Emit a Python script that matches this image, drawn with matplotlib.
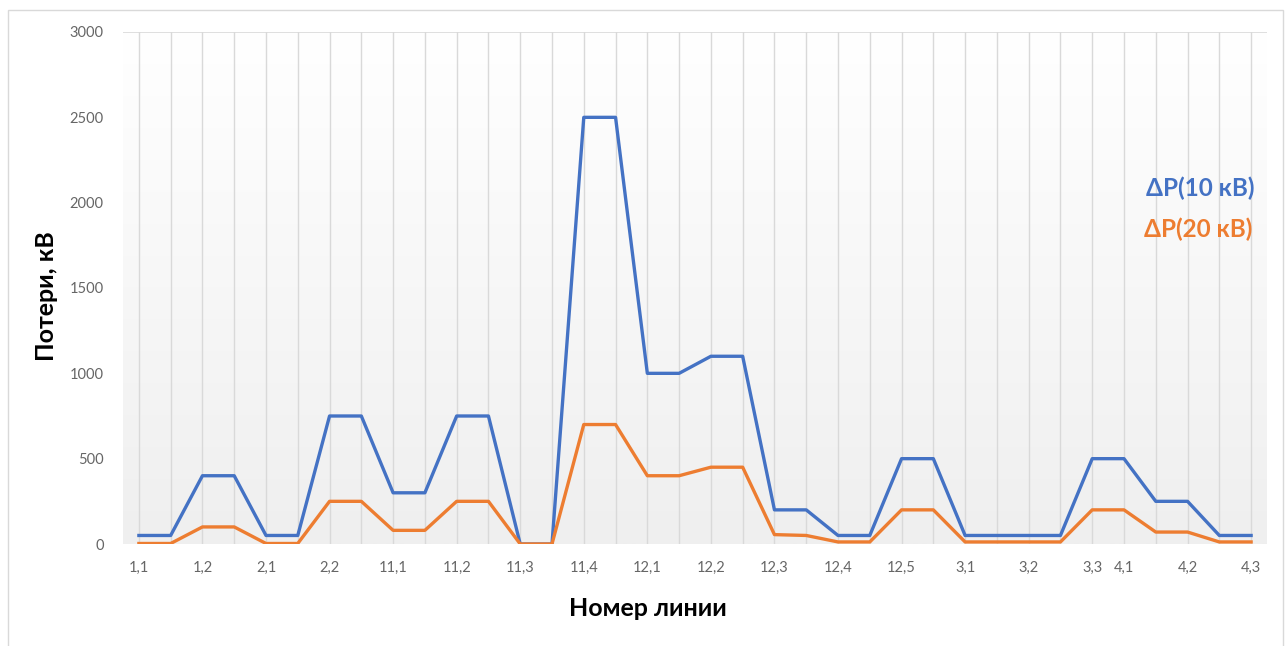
import numpy as np
import matplotlib.pyplot as plt
import matplotlib.patches as patches

# Line numbers (each line takes two category slots; blank = unlabeled slot)
labels = ["1,1", "", "1,2", "", "2,1", "", "2,2", "", "11,1", "", "11,2", "",
          "11,3", "", "11,4", "", "12,1", "", "12,2", "", "12,3", "", "12,4", "",
          "12,5", "", "3,1", "", "3,2", "", "3,3", "4,1", "", "4,2", "", "4,3"]

loss_10kv = [50, 50, 400, 400, 50, 50, 750, 750, 300, 300, 750, 750,
             0, 0, 2500, 2500, 1000, 1000, 1100, 1100, 200, 200, 50, 50,
             500, 500, 50, 50, 50, 50, 500, 500, 250, 250, 50, 50]

loss_20kv = [3, 3, 100, 100, 3, 3, 250, 250, 80, 80, 250, 250,
             0, 0, 700, 700, 400, 400, 450, 450, 55, 50, 12, 12,
             200, 200, 12, 12, 12, 12, 200, 200, 70, 70, 12, 12]

C_BLUE = "#4472C4"
C_ORANGE = "#ED7D31"
C_GRID = "#D9D9D9"
C_TICK = "#666666"

plt.rcParams['font.family'] = ['Lato', 'DejaVu Sans']

fig = plt.figure(figsize=(12.88, 6.46), dpi=100, facecolor="white")
ax = fig.add_axes([123 / 1288, 1 - 544 / 646, (1267 - 123) / 1288, (544 - 32) / 646])

x = np.arange(len(labels))
n = len(labels)

# soft vertical gradient behind the plot area
grad = np.linspace(1.0, 0.0, 256).reshape(-1, 1)
ax.imshow(grad, extent=(-0.5, n - 0.5, 0, 3000), aspect='auto', origin='upper',
          cmap=plt.matplotlib.colors.LinearSegmentedColormap.from_list(
              "bg", ["#EFEFEF", "#FFFFFF"]), zorder=0)

ax.set_xlim(-0.5, n - 0.5)
ax.set_ylim(0, 3000)

ax.set_xticks(x)
ax.set_xticklabels(labels, fontsize=10.5, color=C_TICK)
ax.set_yticks(range(0, 3001, 500))
ax.set_yticklabels([str(v) for v in range(0, 3001, 500)], fontsize=10.5, color=C_TICK)
ax.tick_params(length=0, pad=12)
ax.tick_params(axis='y', pad=14)

ax.grid(axis='x', color=C_GRID, lw=1, zorder=1)
ax.set_axisbelow(True)
ax.axhline(3000, color=C_GRID, lw=1.2, zorder=1)
for s in ax.spines.values():
    s.set_visible(False)

ax.plot(x, loss_10kv, color=C_BLUE, lw=2.4, zorder=3)
ax.plot(x, loss_20kv, color=C_ORANGE, lw=2.4, zorder=3)

# axis titles
fig.text(648 / 1288, 1 - 608 / 646, "Номер линии", fontsize=18, fontweight='bold',
         ha='center', va='center')
fig.text(46 / 1288, 1 - 296 / 646, "Потери, кВ", fontsize=18, fontweight='bold',
         ha='center', va='center', rotation=90)

fig.text(1200 / 1288, 1 - 188 / 646, "ΔP(10 кВ)", color=C_BLUE, fontsize=17.5,
         fontweight='bold', ha='center', va='center')
fig.text(1198 / 1288, 1 - 229 / 646, "ΔP(20 кВ)", color=C_ORANGE, fontsize=17.5,
         fontweight='bold', ha='center', va='center')

# chart frame
frame = patches.Rectangle((8 / 1288, -0.05), (1283 - 8) / 1288, 1.05 - 10.5 / 646,
                          transform=fig.transFigure, fill=False, edgecolor=C_GRID, lw=1)
fig.patches.append(frame)

fig.savefig("out.png", dpi=100, facecolor="white")
